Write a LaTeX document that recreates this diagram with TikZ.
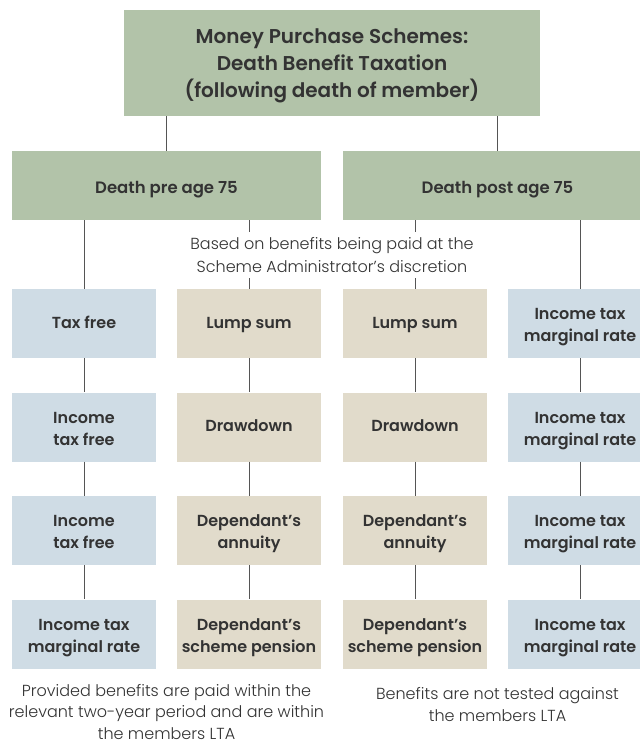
\documentclass[tikz,border=0pt]{standalone}
\usepackage{fontspec}
\setmainfont{Poppins}[UprightFont={Poppins Light},BoldFont={Poppins SemiBold}]
\definecolor{boxgreen}{HTML}{B2C3A9}
\definecolor{boxblue}{HTML}{CFDCE5}
\definecolor{boxbeige}{HTML}{E1DBCB}
\definecolor{txt}{HTML}{333333}
\definecolor{lin}{HTML}{555555}
% centred lines; the box's baseline is that of its last line
\newcommand\mlines[2]{\vbox{\baselineskip=#1\lineskiplimit=-100pt\lineskip=0pt\halign{\hfil##\hfil\cr#2\crcr}}}
\tikzset{
  base/.style={rectangle,inner sep=0pt,text=txt},
  titlebox/.style={base,fill=boxgreen,minimum width=416pt,minimum height=106pt,
    font=\bfseries\fontsize{20}{27}\selectfont,text height=72pt,text depth=3.4pt},
  headbox/.style={base,fill=boxgreen,minimum width=309pt,minimum height=69pt,
    font=\bfseries\fontsize{16.5}{22}\selectfont,text height=18pt,text depth=3pt},
  cellbox/.style={base,minimum width=144pt,minimum height=69pt,
    font=\bfseries\fontsize{16}{22}\selectfont},
  oneline/.style={text height=14pt,text depth=4.4pt},
  twoline/.style={text height=40pt,text depth=4pt},
  bluebox/.style={cellbox,fill=boxblue},
  beigebox/.style={cellbox,fill=boxbeige},
  notetext/.style={base,font=\fontsize{16}{22}\selectfont},
  conn/.style={draw=lin,line width=0.8pt}
}
\begin{document}
\begin{tikzpicture}[x=1pt,y=-1pt]
\clip (0,0) rectangle (640,742);
\fill[white] (0,0) rectangle (640,742);
\node[titlebox] (top) at (332,63) {\mlines{27pt}{Money Purchase Schemes:\cr Death Benefit Taxation\cr (following death of member)}};
\node[headbox] (pre) at (166.5,185.5) {Death pre age 75};
\node[headbox] (post) at (497.5,185.5) {Death post age 75};
\node[notetext,minimum height=46pt,text height=40.5pt,text depth=5.5pt] (mid) at (332,255) {\mlines{23pt}{Based on benefits being paid at the\cr Scheme Administrator’s discretion}};
% column 1
\node[bluebox,oneline] (a1) at (84,323.5) {Tax free};
\node[bluebox,twoline] (a2) at (84,427) {\mlines{22pt}{Income\cr tax free}};
\node[bluebox,twoline] (a3) at (84,530.5) {\mlines{22pt}{Income\cr tax free}};
\node[bluebox,twoline] (a4) at (84,634) {\mlines{22pt}{Income tax\cr marginal rate}};
% column 2
\node[beigebox,oneline] (b1) at (249,323.5) {Lump sum};
\node[beigebox,oneline] (b2) at (249,427) {Drawdown};
\node[beigebox,twoline] (b3) at (249,530.5) {\mlines{22pt}{Dependant’s\cr annuity}};
\node[beigebox,twoline] (b4) at (249,634) {\mlines{22pt}{Dependant’s\cr scheme pension}};
% column 3
\node[beigebox,oneline] (c1) at (415,323.5) {Lump sum};
\node[beigebox,oneline] (c2) at (415,427) {Drawdown};
\node[beigebox,twoline] (c3) at (415,530.5) {\mlines{22pt}{Dependant’s\cr annuity}};
\node[beigebox,twoline] (c4) at (415,634) {\mlines{22pt}{Dependant’s\cr scheme pension}};
% column 4
\node[bluebox,twoline] (d1) at (580,323.5) {\mlines{22pt}{Income tax\cr marginal rate}};
\node[bluebox,twoline] (d2) at (580,427) {\mlines{22pt}{Income tax\cr marginal rate}};
\node[bluebox,twoline] (d3) at (580,530.5) {\mlines{22pt}{Income tax\cr marginal rate}};
\node[bluebox,twoline] (d4) at (580,634) {\mlines{22pt}{Income tax\cr marginal rate}};
% bottom notes
\node[notetext,text height=45pt,text depth=0pt] (n1) at (166.5,716.5) {\mlines{21.5pt}{Provided benefits are paid within the\cr relevant two-year period and are within\cr the members LTA}};
\node[notetext,text height=30pt,text depth=0pt] (n2) at (497.5,706) {\mlines{22pt}{Benefits are not tested against\cr the members LTA}};
% connectors
\draw[conn] (top.south -| pre) -- (pre.north);
\draw[conn] (top.south -| post) -- (post.north);
\draw[conn] (pre.south -| a1) -- (a1.north);
\draw[conn] (pre.south -| b1) -- (mid.north -| b1);
\draw[conn] (mid.south -| b1) -- (b1.north);
\draw[conn] (post.south -| c1) -- (mid.north -| c1);
\draw[conn] (mid.south -| c1) -- (c1.north);
\draw[conn] (post.south -| d1) -- (d1.north);
\foreach \col in {a,b,c,d}{
  \draw[conn] (\col1.south) -- (\col2.north);
  \draw[conn] (\col2.south) -- (\col3.north);
  \draw[conn] (\col3.south) -- (\col4.north);
}
\end{tikzpicture}
\end{document}
